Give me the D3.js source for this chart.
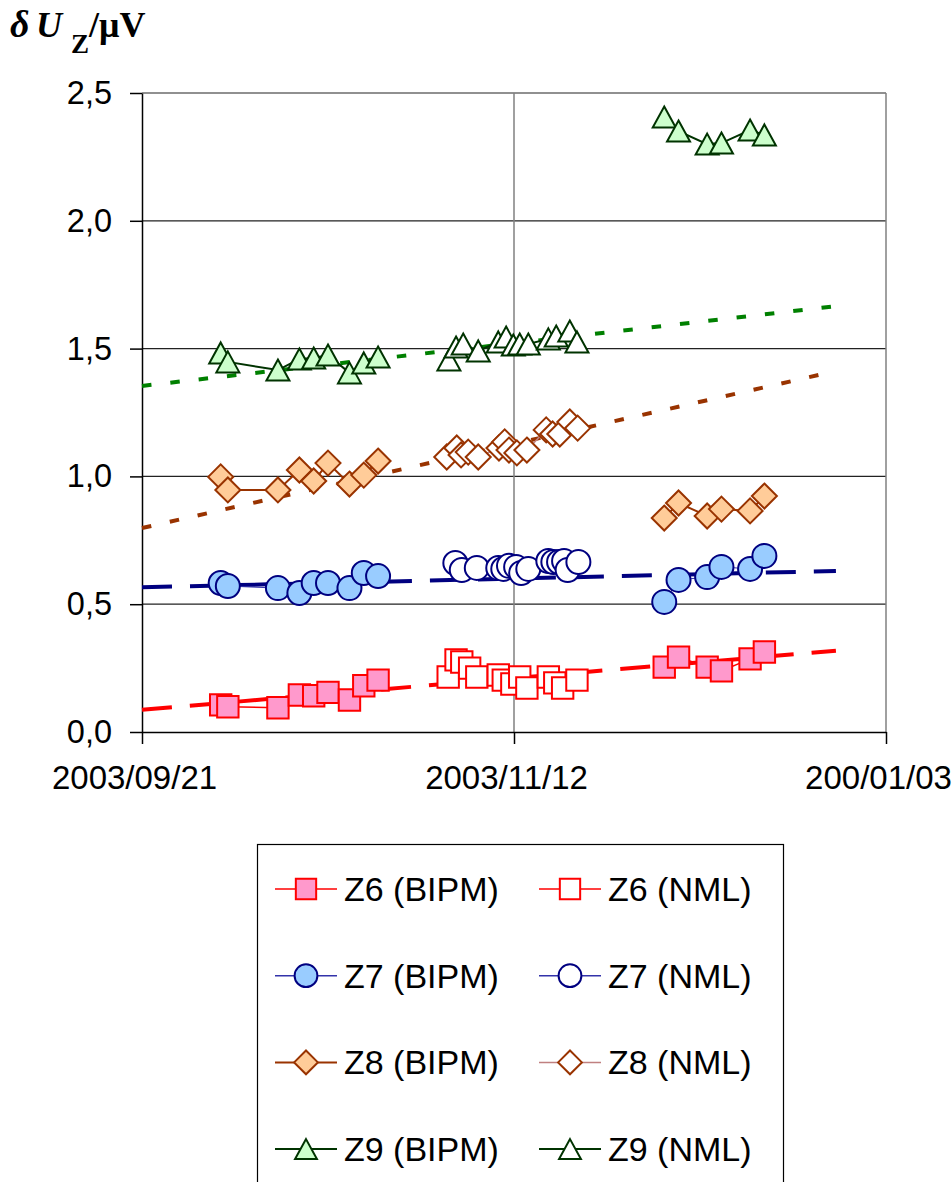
<!DOCTYPE html>
<html lang="en">
<head>
<meta charset="UTF-8">
<title>Z6-Z9 drift</title>
<script src="https://cdn.jsdelivr.net/npm/d3@7"></script>
<style>
    body { margin: 0; background: #fff; }
    .axis path, .axis line { fill: none; stroke: #000; stroke-width: 1.5px; }
    .axis text { font-family: "Liberation Sans", Arial, sans-serif; fill: #000; }
</style>
</head>
<body>
<script>
// x values are days counted from 2003/09/21
const xTickDays = [0, 52, 104];
const xTickLabels = ["2003/09/21", "2003/11/12", "200/01/03"];
const yTicks = [0, 0.5, 1.0, 1.5, 2.0, 2.5];

// BIPM measurements, two campaigns
const bipmDaysA = [11, 12, 19, 22, 24, 26, 29, 31, 33];
const bipmDaysB = [73, 75, 79, 81, 85, 87];

const z6BipmA = [0.106, 0.099, 0.095, 0.145, 0.142, 0.155, 0.125, 0.181, 0.203];
const z6BipmB = [0.254, 0.293, 0.254, 0.239, 0.286, 0.313];
const z7BipmA = [0.583, 0.571, 0.563, 0.544, 0.583, 0.583, 0.563, 0.622, 0.610];
const z7BipmB = [0.509, 0.595, 0.606, 0.646, 0.638, 0.689];
const z8BipmA = [0.998, 0.947, 0.947, 1.025, 0.982, 1.052, 0.970, 1.005, 1.060];
const z8BipmB = [0.837, 0.896, 0.845, 0.872, 0.865, 0.923];
const z9BipmA = [1.483, 1.448, 1.416, 1.459, 1.463, 1.475, 1.405, 1.444, 1.467];
const z9BipmB = [2.406, 2.351, 2.300, 2.304, 2.355, 2.336];

// NML measurements
const z6NmlDays = [42.8, 43.9, 44.7, 45.8, 46.8, 49.8, 50.5, 51.7, 52.8, 53.8, 56.8, 57.7, 58.8, 60.8];
const z6Nml = [0.215, 0.282, 0.274, 0.250, 0.215, 0.223, 0.203, 0.188, 0.215, 0.172, 0.215, 0.192, 0.172, 0.203];
const z7NmlDays = [43.8, 44.7, 46.8, 49.8, 50.5, 51.3, 52.3, 53.0, 54.0, 56.8, 57.5, 58.3, 59.0, 59.5, 61.0];
const z7Nml = [0.661, 0.634, 0.642, 0.642, 0.638, 0.650, 0.646, 0.622, 0.638, 0.669, 0.665, 0.665, 0.669, 0.634, 0.665];
const z8NmlDays = [42.6, 44.0, 44.6, 45.6, 47.0, 49.9, 50.7, 51.3, 52.4, 53.8, 56.5, 57.4, 58.4, 59.8, 60.9];
const z8Nml = [1.076, 1.111, 1.084, 1.095, 1.076, 1.111, 1.135, 1.103, 1.092, 1.103, 1.182, 1.166, 1.166, 1.213, 1.189];
const z9NmlDays = [42.9, 43.9, 44.9, 47.0, 49.8, 50.9, 51.9, 52.8, 54.0, 56.8, 57.9, 59.8, 60.8];
const z9Nml = [1.455, 1.506, 1.518, 1.491, 1.526, 1.545, 1.514, 1.518, 1.518, 1.538, 1.549, 1.569, 1.526];

// linear trend lines (start, end)
const trendDays = [0, 97];
const z6Trend = [0.087, 0.318];
const z7Trend = [0.566, 0.630];
const z8Trend = [0.798, 1.412];
const z9Trend = [1.354, 1.666];

const legendNames = ["Z6 (BIPM)", "Z6 (NML)", "Z7 (BIPM)", "Z7 (NML)",
                     "Z8 (BIPM)", "Z8 (NML)", "Z9 (BIPM)", "Z9 (NML)"];

const zip = (xs, ys) => xs.map((x, i) => [x, ys[i]]);

let series = [
    {name: legendNames[0], shape: "square",   fill: "#ff99cc", stroke: "#ff0000", line: "#ff0000", lw: 1.5, parts: [zip(bipmDaysA, z6BipmA), zip(bipmDaysB, z6BipmB)]},
    {name: legendNames[1], shape: "square",   fill: "#ffffff", stroke: "#ff0000", line: "#ff0000", lw: 1,   parts: [zip(z6NmlDays, z6Nml)]},
    {name: legendNames[2], shape: "circle",   fill: "#99ccff", stroke: "#000080", line: "#3333aa", lw: 1,   parts: [zip(bipmDaysA, z7BipmA), zip(bipmDaysB, z7BipmB)]},
    {name: legendNames[3], shape: "circle",   fill: "#ffffff", stroke: "#000080", line: "#3333aa", lw: 1,   parts: [zip(z7NmlDays, z7Nml)]},
    {name: legendNames[4], shape: "diamond",  fill: "#ffcc99", stroke: "#993300", line: "#993300", lw: 2,   parts: [zip(bipmDaysA, z8BipmA), zip(bipmDaysB, z8BipmB)]},
    {name: legendNames[5], shape: "diamond",  fill: "#ffffff", stroke: "#993300", line: "#c08080", lw: 1.5, parts: [zip(z8NmlDays, z8Nml)]},
    {name: legendNames[6], shape: "triangle", fill: "#ccffcc", stroke: "#003300", line: "#003300", lw: 2,   parts: [zip(bipmDaysA, z9BipmA), zip(bipmDaysB, z9BipmB)]},
    {name: legendNames[7], shape: "triangle", fill: "#ffffff", stroke: "#003300", line: "#003300", lw: 2,   parts: [zip(z9NmlDays, z9Nml)]}
];

let trends = [
    {vals: z6Trend, color: "#ff0000", dash: "30,18"},
    {vals: z7Trend, color: "#000080", dash: "30,18"},
    {vals: z8Trend, color: "#993300", dash: "9.5,19"},
    {vals: z9Trend, color: "#008000", dash: "9.5,19"}
];

function markerPath(shape, k) {
    k = k || 1;
    if (shape === "square") { let s = 10.7 * k; return `M${-s},${-s}H${s}V${s}H${-s}Z`; }
    if (shape === "circle") { let r = 12 * k; return `M${r},0A${r},${r} 0 1,1 ${-r},0A${r},${r} 0 1,1 ${r},0Z`; }
    if (shape === "diamond") { let s = 12.5 * k; return `M0,${-s}L${s},0L0,${s}L${-s},0Z`; }
    let w = 11.5 * k, h = 10.5 * k;
    return `M0,${-h}L${w},${h}L${-w},${h}Z`;
}

let w = 952, h = 1182;
let svg = d3.select("body").append("svg")
    .attr("width", w).attr("height", h);

let xScale = d3.scaleLinear().domain([0, 104]).range([142, 886]);
let yScale = d3.scaleLinear().domain([0, 2.5]).range([732, 93]);

// grid
svg.append("g").selectAll("line")
    .data(yTicks.slice(1))
    .enter().append("line")
    .attr("x1", xScale(0)).attr("x2", xScale(104))
    .attr("y1", d => yScale(d)).attr("y2", d => yScale(d))
    .attr("stroke", "#222").attr("stroke-width", 1.2);
svg.append("g").selectAll("line")
    .data(xTickDays.slice(1))
    .enter().append("line")
    .attr("x1", d => xScale(d)).attr("x2", d => xScale(d))
    .attr("y1", yScale(0)).attr("y2", yScale(2.5))
    .attr("stroke", "#808080").attr("stroke-width", 1.5);

// axes
let yAxis = d3.axisLeft(yScale).tickValues(yTicks).tickSize(12).tickSizeOuter(0).tickPadding(18)
    .tickFormat(d => d3.format(".1f")(d).replace(".", ","));
let xAxis = d3.axisBottom(xScale).tickValues(xTickDays).tickSize(12).tickSizeOuter(0).tickPadding(22)
    .tickFormat((d, i) => xTickLabels[i]);

svg.append("g")
    .attr("class", "axis")
    .attr("transform", "translate(" + xScale(0) + ",0)")
    .call(yAxis)
    .attr("font-size", 32.5);

svg.append("g")
    .attr("class", "axis")
    .attr("transform", "translate(0," + yScale(0) + ")")
    .call(xAxis)
    .attr("font-size", 33)
    .selectAll("text").attr("dx", -8);

// trend lines
let line = d3.line().x(d => xScale(d[0])).y(d => yScale(d[1]));
svg.append("g").selectAll("path")
    .data(trends)
    .enter().append("path")
    .attr("d", d => line(zip(trendDays, d.vals)))
    .attr("fill", "none")
    .attr("stroke", d => d.color)
    .attr("stroke-width", 4)
    .attr("stroke-dasharray", d => d.dash);

// data series
series.forEach(s => {
    let g = svg.append("g");
    s.parts.forEach(p => {
        g.append("path")
            .attr("d", line(p))
            .attr("fill", "none")
            .attr("stroke", s.line)
            .attr("stroke-width", s.lw);
    });
    g.selectAll("path.mark")
        .data(s.parts.flat())
        .enter().append("path")
        .attr("class", "mark")
        .attr("transform", d => "translate(" + xScale(d[0]) + "," + yScale(d[1]) + ")")
        .attr("d", markerPath(s.shape))
        .attr("fill", s.fill)
        .attr("stroke", s.stroke)
        .attr("stroke-width", 2);
});

// title
let title = svg.append("text")
    .attr("font-family", "'Liberation Serif', 'Times New Roman', serif")
    .attr("font-size", 36)
    .attr("font-weight", "bold");
title.append("tspan").attr("x", 10).attr("y", 37).attr("font-style", "italic").attr("font-size", 38).text("δ");
title.append("tspan").attr("x", 36).attr("y", 37).attr("font-style", "italic").text("U");
title.append("tspan").attr("x", 71).attr("y", 53).attr("font-size", 27).text("Z");
title.append("tspan").attr("x", 89).attr("y", 37).text("/μV");

// legend
let legend = svg.append("g");
legend.append("rect")
    .attr("x", 257.5).attr("y", 844.5)
    .attr("width", 526).attr("height", 360)
    .attr("fill", "#fff").attr("stroke", "#000").attr("stroke-width", 1.2);

let item = legend.selectAll("g.item")
    .data(series)
    .enter().append("g")
    .attr("class", "item")
    .attr("transform", (d, i) => "translate(" + (i % 2 === 0 ? 275 : 539) + "," + (889 + Math.floor(i / 2) * 86.7) + ")");

item.append("line")
    .attr("x1", 0).attr("x2", 62)
    .attr("stroke", d => d.line)
    .attr("stroke-width", d => Math.max(d.lw, 1.5));
item.append("path")
    .attr("transform", "translate(31,0)")
    .attr("d", d => markerPath(d.shape, 0.95))
    .attr("fill", d => d.fill)
    .attr("stroke", d => d.stroke)
    .attr("stroke-width", 2);
item.append("text")
    .attr("x", 69).attr("y", 12)
    .attr("font-family", "'Liberation Sans', Arial, sans-serif")
    .attr("font-size", 34)
    .text(d => d.name);
</script>
</body>
</html>
